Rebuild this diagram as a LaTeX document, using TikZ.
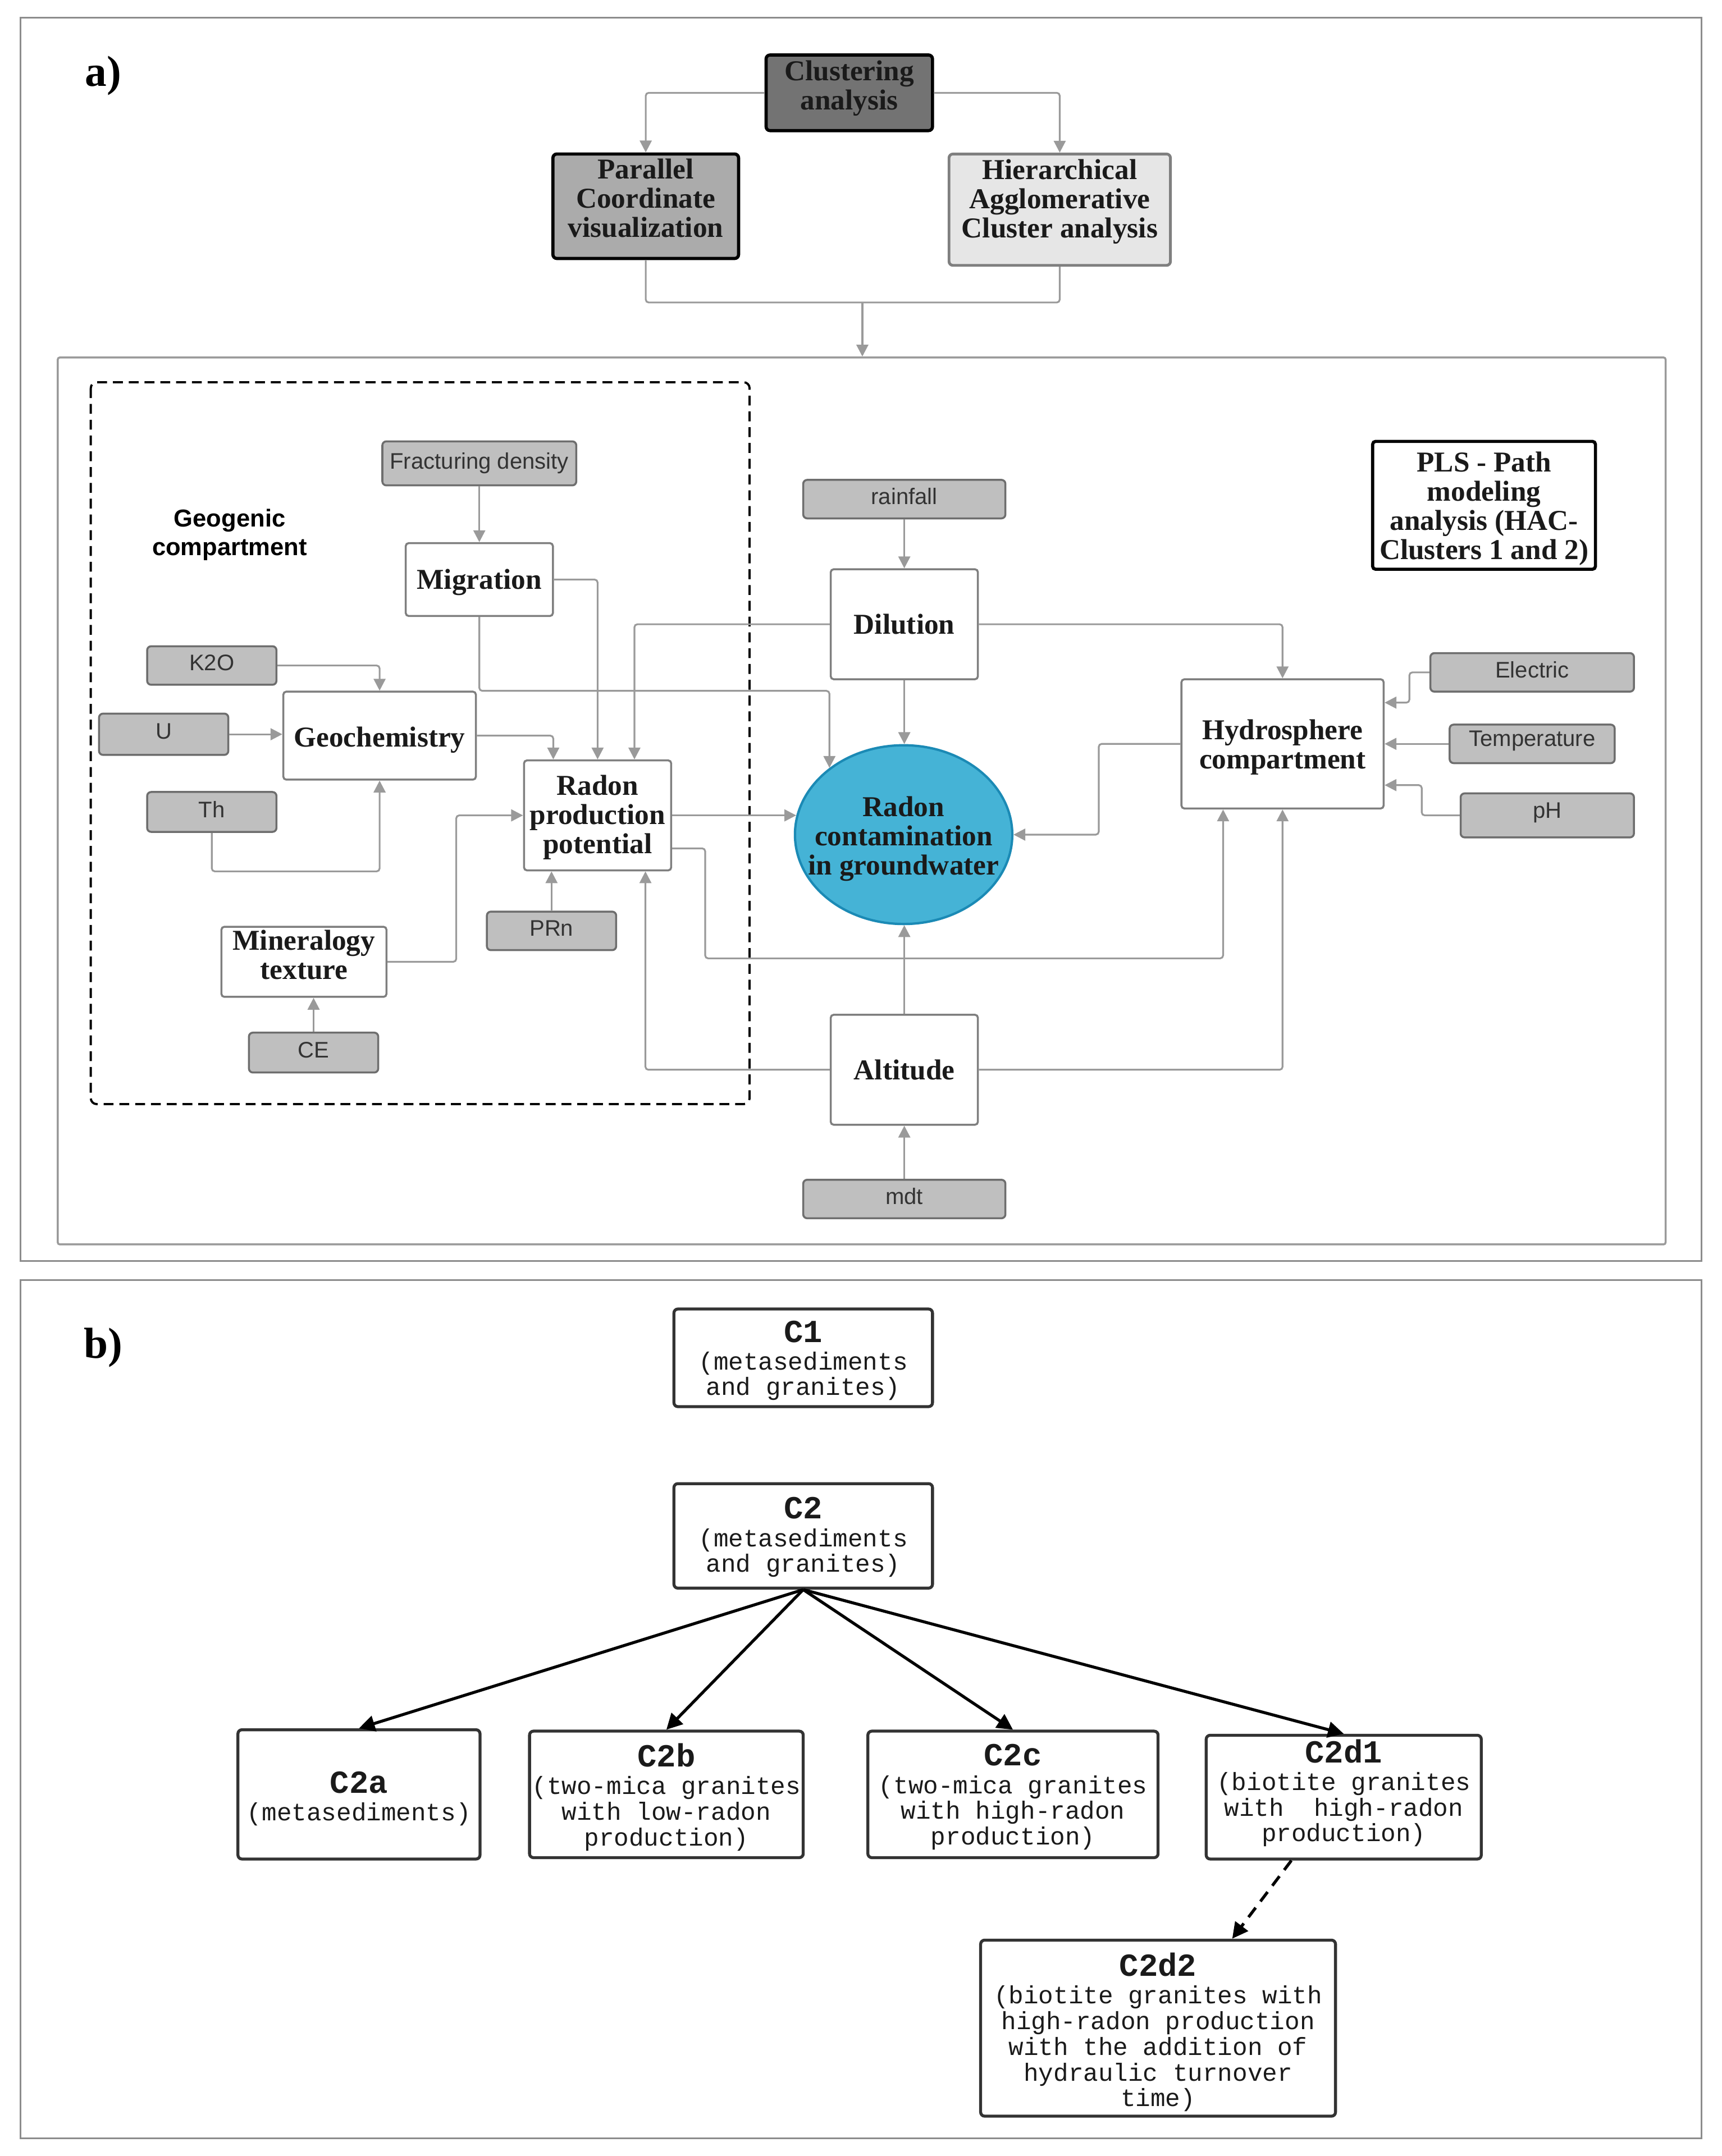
\documentclass[tikz,border=0pt]{standalone}
\usepackage{fontspec}
\setmainfont{Liberation Serif}
\setsansfont{Liberation Sans}
\setmonofont{Liberation Mono}
\usetikzlibrary{arrows.meta,calc,shapes.geometric}
\definecolor{clusfill}{HTML}{737373}
\definecolor{parfill}{HTML}{ABABAB}
\definecolor{hierfill}{HTML}{E6E6E6}
\definecolor{lblfill}{HTML}{BFBFBF}
\definecolor{lbldraw}{HTML}{6E6E6E}
\definecolor{wdraw}{HTML}{7F7F7F}
\definecolor{conngray}{HTML}{9A9A9A}
\definecolor{rcfill}{HTML}{45B3D6}
\definecolor{rcdraw}{HTML}{1B8AB5}
\definecolor{panelgray}{HTML}{8C8C8C}
\definecolor{txtdark}{HTML}{1A1A1A}
\definecolor{lbltext}{HTML}{333333}
\definecolor{bdraw}{HTML}{333333}

% box from (x1,y1) to (x2,y2) in reference units, text shifted by optional #1
\newcommand\bx[8][0]{%
  \pgfmathsetlengthmacro\mybw{(#5-#3)*0.02449cm}%
  \pgfmathsetlengthmacro\mybh{(#6-#4)*0.02449cm}%
  \node[#7, minimum width=\mybw, minimum height=\mybh, inner sep=0pt] (#2) at ({(#3+#5)/2},{(#4+#6)/2}) {};%
  \node[#7, draw=none, fill=none, inner sep=0pt, minimum width=0pt, minimum height=0pt] (#2-t) at ($(#2.center)+(0,#1)$) {#8};%
}

\begin{document}
\begin{tikzpicture}[x=0.02449cm, y=-0.02449cm,
  serifbox/.style={font=\bfseries\fontsize{14.6}{14.8}\selectfont, align=center, text=txtdark},
  whitebox/.style={serifbox, draw=wdraw, fill=white, line width=1pt, rounded corners=1.5pt},
  lbl/.style={draw=lbldraw, fill=lblfill, line width=1pt, rounded corners=2pt, font=\sffamily\fontsize{11.4}{13}\selectfont, text=lbltext},
  clusbox/.style={serifbox, draw=black, fill=clusfill, line width=1.6pt, rounded corners=2pt},
  parbox/.style={serifbox, draw=black, fill=parfill, line width=1.6pt, rounded corners=2pt},
  hierbox/.style={serifbox, draw=wdraw, fill=hierfill, line width=1.4pt, rounded corners=2pt},
  plsbox/.style={serifbox, draw=black, fill=white, line width=1.6pt, rounded corners=1.5pt},
  rcell/.style={serifbox, shape=ellipse, draw=rcdraw, fill=rcfill, line width=1.2pt},
  innerframe/.style={draw=conngray, line width=1pt, rounded corners=1pt},
  panel/.style={draw=panelgray, line width=0.8pt},
  dashbox/.style={draw=black, line width=1.1pt, dash pattern=on 5pt off 3pt, rounded corners=3pt},
  geotext/.style={font=\sffamily\bfseries\fontsize{12.4}{14.6}\selectfont, align=center, text=black},
  conn/.style={draw=conngray, line width=0.9pt, rounded corners=1.5pt, -{Triangle[width=6pt,length=6pt]}},
  cline/.style={draw=conngray, line width=0.9pt, rounded corners=1.5pt},
  cbox/.style={draw=bdraw, line width=1.5pt, fill=white, rounded corners=2pt, align=center, font=\ttfamily\fontsize{12.6}{13}\selectfont, text=txtdark},
  bconn/.style={draw=black, line width=1.5pt, -{Triangle[width=8pt,length=8pt]}},
  panellabel/.style={font=\bfseries\fontsize{22}{24}\selectfont, text=black}
]
\useasboundingbox (0,0) rectangle (1252,1568);

% ---------------- panel a ----------------
\draw[panel] (15,13) rectangle (1237,917);
\node[panellabel] (la) at (75,55) {a)};

\bx[-3.5]{clus}{557}{40}{678}{95}{clusbox}{Clustering\\analysis}
\bx[-6]{par}{402}{112}{537}{188}{parbox}{Parallel\\Coordinate\\visualization}
\bx[-6]{hier}{690}{112}{851}{193}{hierbox}{Hierarchical\\Agglomerative\\Cluster analysis}

\bx{frame}{42}{260}{1211}{905}{innerframe}{}
\draw[dashbox] (66,278) rectangle (545,803);

\node[geotext] (geolab) at (167,389) {Geogenic\\compartment};

\bx{frac}{278}{321}{419}{353}{lbl}{Fracturing density}
\bx[2]{mig}{295}{395}{402}{448}{whitebox}{Migration}
\bx[-2]{k2o}{107}{470}{201}{498}{lbl}{K2O}
\bx[-2]{u}{72}{519}{166}{549}{lbl}{U}
\bx[-2]{th}{107}{576}{201}{605}{lbl}{Th}
\bx[3]{geo}{206}{503}{346}{567}{whitebox}{Geochemistry}
\bx[1.5]{rpp}{381}{553}{488}{633}{whitebox}{Radon\\production\\potential}
\bx[-5]{min}{161}{674}{281}{725}{whitebox}{Mineralogy\\texture}
\bx[-2]{ce}{181}{751}{275}{780}{lbl}{CE}
\bx[-2]{prn}{354}{663}{448}{691}{lbl}{PRn}

\bx[3]{rc}{578}{542}{736}{672}{rcell}{Radon\\contamination\\in groundwater}
\bx[-2]{rain}{584}{349}{731}{377}{lbl}{rainfall}
\bx{dil}{604}{414}{711}{494}{whitebox}{Dilution}
\bx[2.5]{hyd}{859}{494}{1006}{588}{whitebox}{Hydrosphere\\compartment}
\bx[-2]{ele}{1040}{475}{1188}{503}{lbl}{Electric}
\bx[-2]{temp}{1054}{527}{1174}{555}{lbl}{Temperature}
\bx[-2]{ph}{1062}{577}{1188}{609}{lbl}{pH}
\bx[2.5]{pls}{998}{321}{1160}{414}{plsbox}{PLS - Path\\modeling\\analysis (HAC-\\Clusters 1 and 2)}
\bx{alt}{604}{738}{711}{818}{whitebox}{Altitude}
\bx[-2]{mdt}{584}{858}{731}{886}{lbl}{mdt}

% connectors, top part
\draw[conn] (clus.west) -| (par.north);
\draw[conn] (clus.east) -| (hier.north);
\coordinate (merge) at (627,220);
\draw[cline] (par.south) |- (merge) -| (hier.south);
\draw[conn] (merge) -- (merge |- frame.north);

% geogenic compartment
\draw[conn] (frac.south) -- (mig.north);
\draw[conn] (k2o.east) -| (geo.north);
\draw[conn] (u.east) -- (u.east -| geo.west);
\draw[conn] (th.south) -- ++(0,28) -| (geo.south);
\draw[conn] (geo.east) -| ($(rpp.north west)+(22,0)$);
\draw[conn] (mig.east) -| (rpp.north);
\draw[conn] (mig.south) |- ($(rc.138)+(0,-56)$) -- (rc.138);
\draw[conn] (min.east) -- ++(50,0) |- (rpp.west);
\draw[conn] (ce.north) -- (ce.north |- min.south);
\draw[conn] (prn.north) -- (prn.north |- rpp.south);
\draw[conn] (rpp.east) -- (rpp.east -| rc.170);
\draw[conn] ($(rpp.east)+(0,24)$) -| ++(24,80) -| ($(hyd.south west)+(31,0)$);

% dilution / hydrosphere / altitude
\draw[conn] (rain.south) -- (dil.north);
\draw[conn] (dil.south) -- (dil.south |- rc.north);
\draw[conn] (dil.west) -| ($(rpp.north west)+(81,0)$);
\draw[conn] (dil.east) -| (hyd.north);
\draw[conn] (hyd.west) -| ($(rc.east)+(62,0)$) -- (rc.east);
\draw[conn] (ele.west) -| ($(hyd.east)+(18,-30)$) -- ($(hyd.east)+(0,-30)$);
\draw[conn] (temp.west) -- (hyd.east);
\draw[conn] (ph.west) -| ($(hyd.east)+(27,30)$) -- ($(hyd.east)+(0,30)$);
\draw[conn] (alt.north) -- (alt.north |- rc.south);
\draw[conn] (mdt.north) -- (alt.south);
\draw[conn] (alt.east) -| (hyd.south);
\draw[conn] (alt.west) -| ($(rpp.south west)+(89,0)$);

% ---------------- panel b ----------------
\draw[panel] (15,931) rectangle (1237,1555);
\node[panellabel] (lb) at (75,980) {b)};

\bx[2]{c1}{490}{952}{678}{1023}{cbox}{{\bfseries\fontsize{16.3}{17}\selectfont C1}\\[1pt](metasediments\\and granites)}
\bx[1]{c2}{490}{1079}{678}{1155}{cbox}{{\bfseries\fontsize{16.3}{17}\selectfont C2}\\[1pt](metasediments\\and granites)}
\bx[3]{c2a}{173}{1258}{349}{1352}{cbox}{{\bfseries\fontsize{16.3}{17}\selectfont C2a}\\[1pt](metasediments)}
\bx[2]{c2b}{385}{1259}{584}{1351}{cbox}{{\bfseries\fontsize{16.3}{17}\selectfont C2b}\\[1pt](two-mica granites\\with low-radon\\production)}
\bx[2]{c2c}{631}{1259}{842}{1351}{cbox}{{\bfseries\fontsize{16.3}{17}\selectfont C2c}\\[1pt](two-mica granites\\with high-radon\\production)}
\bx[-3]{c2d1}{877}{1262}{1077}{1352}{cbox}{{\bfseries\fontsize{16.3}{17}\selectfont C2d1}\\[1pt](biotite granites\\with\ \ high-radon\\production)}
\bx[3]{c2d2}{713}{1411}{971}{1539}{cbox}{{\bfseries\fontsize{16.3}{17}\selectfont C2d2}\\[1pt](biotite granites with\\high-radon production\\with the addition of\\hydraulic turnover\\time)}

\draw[bconn] (c2.south) -- (c2a.north);
\draw[bconn] (c2.south) -- (c2b.north);
\draw[bconn] (c2.south) -- (c2c.north);
\draw[bconn] (c2.south) -- (c2d1.north);
\draw[bconn, dash pattern=on 6pt off 4pt] ($(c2d1.south west)+(63,0)$) -- ($(c2d2.north west)+(184,0)$);
\end{tikzpicture}
\end{document}
